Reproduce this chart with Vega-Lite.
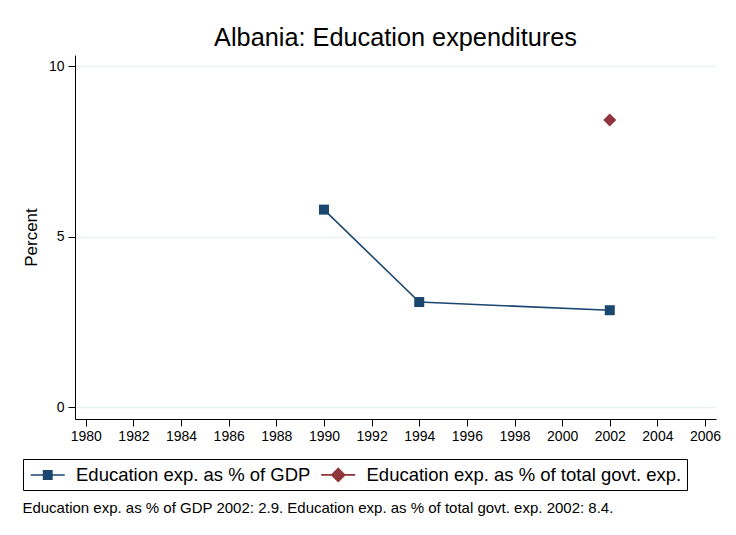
{
  "$schema": "https://vega.github.io/schema/vega-lite/v6.json",
  "background": "white",
  "padding": {"left": 22, "top": 25, "right": 10, "bottom": 18},
  "config": {
    "view": {"stroke": null},
    "font": "Liberation Sans",
    "concat": {"spacing": 0}
  },
  "title": {
    "text": "Education exp. as % of GDP 2002: 2.9. Education exp. as % of total govt. exp. 2002: 8.4.",
    "orient": "bottom",
    "anchor": "start",
    "frame": "bounds",
    "fontSize": 15,
    "fontWeight": "normal",
    "color": "black",
    "offset": 10
  },
  "vconcat": [
    {
      "width": 641,
      "height": 364,
      "title": {
        "text": "Albania: Education expenditures",
        "fontSize": 25.3,
        "fontWeight": "normal",
        "anchor": "middle",
        "frame": "group",
        "color": "black",
        "offset": 4
      },
      "data": {
        "values": [
          {"year": 1990, "value": 5.8, "series": "Education exp. as % of GDP"},
          {"year": 1994, "value": 3.09, "series": "Education exp. as % of GDP"},
          {"year": 2002, "value": 2.85, "series": "Education exp. as % of GDP"},
          {"year": 2002, "value": 8.43, "series": "Education exp. as % of total govt. exp."}
        ]
      },
      "encoding": {
        "x": {
          "field": "year",
          "type": "quantitative",
          "scale": {"domain": [1979.547, 2006.46], "nice": false, "zero": false},
          "axis": {
            "values": [1980, 1982, 1984, 1986, 1988, 1990, 1992, 1994, 1996, 1998, 2000, 2002, 2004, 2006],
            "format": "d",
            "title": null,
            "grid": false,
            "domainColor": "black",
            "tickColor": "black",
            "tickSize": 7,
            "labelFontSize": 14,
            "labelColor": "black",
            "labelPadding": 3,
            "labelFlush": false
          }
        },
        "y": {
          "field": "value",
          "type": "quantitative",
          "scale": {"domain": [-0.34, 10.334], "nice": false, "zero": false},
          "axis": {
            "values": [0, 5, 10],
            "title": "Percent",
            "titleFontSize": 17,
            "titleFontWeight": "normal",
            "titleColor": "black",
            "titlePadding": 8,
            "grid": true,
            "gridColor": "#eaf2f3",
            "gridWidth": 1.5,
            "domainColor": "black",
            "tickColor": "black",
            "tickSize": 7,
            "labelFontSize": 14,
            "labelColor": "black",
            "labelPadding": 4
          }
        }
      },
      "layer": [
        {
          "transform": [{"filter": "datum.series === 'Education exp. as % of GDP'"}],
          "mark": {"type": "line", "strokeWidth": 1.6, "color": "#1a476f"}
        },
        {
          "transform": [{"filter": "datum.series === 'Education exp. as % of GDP'"}],
          "mark": {"type": "point", "shape": "square", "filled": true, "opacity": 1, "size": 100, "color": "#1a476f"}
        },
        {
          "transform": [{"filter": "datum.series === 'Education exp. as % of total govt. exp.'"}],
          "mark": {"type": "point", "shape": "M0,-1.3L1.3,0L0,1.3L-1.3,0Z", "filled": true, "opacity": 1, "size": 100, "color": "#90353b"}
        },
        {
          "mark": {"type": "point", "filled": false, "opacity": 0, "strokeWidth": 1.6},
          "encoding": {
            "color": {
              "field": "series",
              "type": "nominal",
              "scale": {
                "domain": ["Education exp. as % of GDP", "Education exp. as % of total govt. exp."],
                "range": ["#1a476f", "#90353b"]
              },
              "legend": {
                "title": null,
                "orient": "none",
                "legendX": -52,
                "legendY": 404,
                "direction": "horizontal",
                "strokeColor": "black",
                "padding": 5,
                "labelFontSize": 18.5,
                "labelColor": "black",
                "labelLimit": 500,
                "labelOffset": 27,
                "columnPadding": 6.5,
                "symbolSize": 342,
                "symbolOpacity": 1,
                "symbolStrokeWidth": 1.6
              }
            },
            "shape": {
              "field": "series",
              "type": "nominal",
              "scale": {
                "domain": ["Education exp. as % of GDP", "Education exp. as % of total govt. exp."],
                "range": [
                  "M-0.84,0H2.84M0.55,-0.45H1.45V0.45H0.55ZM0.55,-0.3H1.45M0.55,-0.15H1.45M0.55,0.15H1.45M0.55,0.3H1.45",
                  "M-0.84,0H2.84M1,-0.7L1.7,0L1,0.7L0.3,0ZM0.9,-0.6H1.1M0.75,-0.45H1.25M0.6,-0.3H1.4M0.45,-0.15H1.55M0.45,0.15H1.55M0.6,0.3H1.4M0.75,0.45H1.25M0.9,0.6H1.1"
                ]
              }
            }
          }
        }
      ]
    }
  ]
}
